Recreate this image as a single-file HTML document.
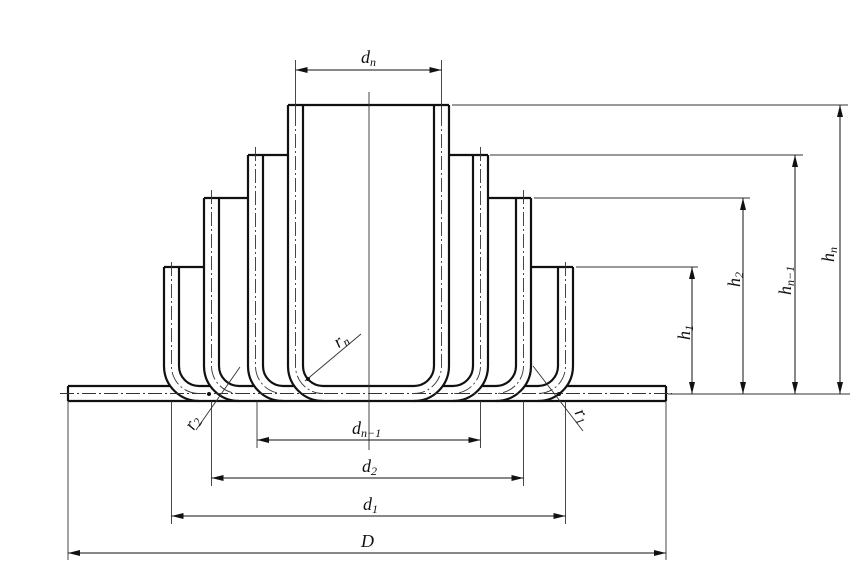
<!DOCTYPE html>
<html><head><meta charset="utf-8"><style>
html,body{margin:0;padding:0;background:#fff;}
svg{display:block;}
text{font-family:"Liberation Serif",serif;font-style:italic;fill:#111;}
</style></head><body>
<svg width="868" height="561" viewBox="0 0 868 561" xmlns="http://www.w3.org/2000/svg">
<defs>
<marker id="a" viewBox="0 0 12 6" refX="12" refY="3" markerWidth="12" markerHeight="6" orient="auto-start-reverse" markerUnits="userSpaceOnUse"><path d="M0,0 L12,3 L0,6 z" fill="#111"/></marker>
</defs>
<g fill="none" stroke="#111" stroke-width="2.2">
<line x1="68" y1="401" x2="666" y2="401"/>
<line x1="68" y1="386" x2="170" y2="386"/>
<line x1="567" y1="386" x2="666" y2="386"/>
<line x1="68" y1="386" x2="68" y2="401"/>
<line x1="666" y1="386" x2="666" y2="401"/>
<!-- cup 1 -->
<path d="M164,267 V366 A35,35 0 0 0 199,401"/>
<path d="M179,267 V366 A20,20 0 0 0 199,386 H210"/>
<path d="M573,267 V366 A35,35 0 0 1 538,401"/>
<path d="M558,267 V366 A20,20 0 0 1 538,386 H525"/>
<line x1="164" y1="267" x2="204" y2="267"/>
<line x1="531" y1="267" x2="573" y2="267"/>
<!-- cup 2 -->
<path d="M204,198 V366 A35,35 0 0 0 239,401"/>
<path d="M219,198 V366 A20,20 0 0 0 239,386 H254"/>
<path d="M531,198 V366 A35,35 0 0 1 496,401"/>
<path d="M516,198 V366 A20,20 0 0 1 496,386 H482"/>
<line x1="204" y1="198" x2="248" y2="198"/>
<line x1="488" y1="198" x2="531" y2="198"/>
<!-- cup 3 -->
<path d="M248,155 V366 A35,35 0 0 0 283,401"/>
<path d="M263,155 V366 A20,20 0 0 0 283,386 H294"/>
<path d="M488,155 V366 A35,35 0 0 1 453,401"/>
<path d="M473,155 V366 A20,20 0 0 1 453,386 H443"/>
<line x1="248" y1="155" x2="288" y2="155"/>
<line x1="449" y1="155" x2="488" y2="155"/>
<!-- cup n -->
<path d="M288,105 V366 A35,35 0 0 0 323,401"/>
<path d="M303,105 V366 A20,20 0 0 0 323,386 H414 A20,20 0 0 0 434,366 V105"/>
<path d="M449,105 V366 A35,35 0 0 1 414,401"/>
<line x1="288" y1="105" x2="449" y2="105"/>
</g>
<g fill="none" stroke="#333" stroke-width="0.9" stroke-dasharray="14 3 2 3">
<line x1="60" y1="393.5" x2="672" y2="393.5"/>
<path d="M171.5,262 V366 A27.5,27.5 0 0 0 199,393.5"/>
<path d="M565.5,262 V366 A27.5,27.5 0 0 1 538,393.5"/>
<path d="M211.5,190 V366 A27.5,27.5 0 0 0 239,393.5"/>
<path d="M523.5,190 V366 A27.5,27.5 0 0 1 496,393.5"/>
<path d="M255.5,147 V366 A27.5,27.5 0 0 0 283,393.5"/>
<path d="M480.5,147 V366 A27.5,27.5 0 0 1 453,393.5"/>
<path d="M295.5,112 V366 A27.5,27.5 0 0 0 323,393.5"/>
<path d="M441.5,112 V366 A27.5,27.5 0 0 1 414,393.5"/>
</g>
<g fill="none" stroke="#333" stroke-width="0.9">
<line x1="369" y1="92" x2="369" y2="450"/>
<line x1="295.5" y1="60" x2="295.5" y2="112"/>
<line x1="441.5" y1="60" x2="441.5" y2="112"/>
<line x1="171.5" y1="401" x2="171.5" y2="524"/>
<line x1="565.5" y1="401" x2="565.5" y2="524"/>
<line x1="211.5" y1="401" x2="211.5" y2="486"/>
<line x1="523.5" y1="401" x2="523.5" y2="486"/>
<line x1="257" y1="401" x2="257" y2="448"/>
<line x1="480.5" y1="401" x2="480.5" y2="448"/>
<line x1="68" y1="401" x2="68" y2="560"/>
<line x1="666" y1="401" x2="666" y2="560"/>
<line x1="452" y1="105" x2="848" y2="105"/>
<line x1="490" y1="155" x2="803" y2="155"/>
<line x1="534" y1="198" x2="750" y2="198"/>
<line x1="576" y1="267" x2="698" y2="267"/>
<line x1="668" y1="394" x2="850" y2="394"/>
<line x1="305" y1="381" x2="361" y2="334"/>
<line x1="240" y1="367" x2="196" y2="430"/>
<line x1="533" y1="366" x2="583" y2="431"/>
</g>
<circle cx="308" cy="379" r="2" fill="#111"/>
<circle cx="209" cy="394" r="2" fill="#111"/>
<circle cx="559" cy="394" r="2" fill="#111"/>
<g stroke="#111" stroke-width="1" marker-start="url(#a)" marker-end="url(#a)">
<line x1="295.5" y1="70" x2="441.5" y2="70"/>
<line x1="257" y1="440" x2="480.5" y2="440"/>
<line x1="211.5" y1="478" x2="523.5" y2="478"/>
<line x1="171.5" y1="516" x2="565.5" y2="516"/>
<line x1="68" y1="553" x2="666" y2="553"/>
<line x1="692" y1="267" x2="692" y2="394"/>
<line x1="743" y1="198" x2="743" y2="394"/>
<line x1="795" y1="155" x2="795" y2="394"/>
<line x1="840" y1="105" x2="840" y2="394"/>
</g>
<text x="361" y="63" font-size="18">d<tspan font-size="12" dy="3">n</tspan></text>
<text x="352" y="434" font-size="18">d<tspan font-size="12" dy="3">n−1</tspan></text>
<text x="362" y="472" font-size="18">d<tspan font-size="12" dy="3">2</tspan></text>
<text x="363" y="510" font-size="18">d<tspan font-size="12" dy="3">1</tspan></text>
<text x="361" y="547" font-size="18">D</text>
<text x="334" y="346" font-size="18" transform="rotate(-35 340 340)">r<tspan font-size="12" dy="3">n</tspan></text>
<text x="185" y="428" font-size="18" transform="rotate(-60 192 422)">r<tspan font-size="12" dy="3">2</tspan></text>
<text x="577" y="420" font-size="18" transform="rotate(60 582 414)">r<tspan font-size="12" dy="3">1</tspan></text>
<g font-size="18">
<text transform="translate(690,340) rotate(-90)">h<tspan font-size="12" dy="3">1</tspan></text>
<text transform="translate(740,287) rotate(-90)">h<tspan font-size="12" dy="3">2</tspan></text>
<text transform="translate(791,295) rotate(-90)">h<tspan font-size="12" dy="3">n−1</tspan></text>
<text transform="translate(834,262) rotate(-90)">h<tspan font-size="12" dy="3">n</tspan></text>
</g>
</svg>
</body></html>
